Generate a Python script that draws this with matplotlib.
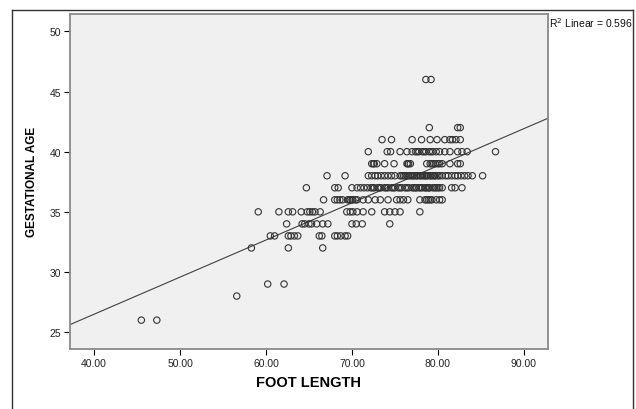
import matplotlib
matplotlib.use("Agg")
import matplotlib.pyplot as plt
from matplotlib.lines import Line2D
import numpy as np

plt.rcParams['font.family'] = ['Liberation Sans', 'DejaVu Sans']

# ---- data: foot length values for each gestational-age level ----
ga_levels = [26, 28, 29, 32, 33, 34, 35, 36, 37, 38, 39, 40, 41, 42, 46]
fl_ga26 = [45.5, 47.3]
fl_ga28 = [56.6]
fl_ga29 = [60.2, 62.1]
fl_ga32 = [58.3, 62.6, 66.6]
fl_ga33 = [60.5, 61.0, 62.6, 62.9, 63.3, 63.7, 66.2, 66.5, 68.0, 68.3, 68.7, 69.2, 69.5]
fl_ga34 = [62.4, 64.2, 64.5, 65.0, 65.3, 65.9, 66.6, 67.2, 70.0, 70.5, 71.2, 74.4]
fl_ga35 = [59.1, 61.5, 62.6, 63.1, 64.1, 64.8, 65.1, 65.4, 65.7, 66.3, 69.4, 69.8,
           70.1, 70.6, 71.3, 72.3, 73.8, 74.4, 75.0, 75.6, 77.9]
fl_ga36 = [66.7, 68.0, 68.3, 68.6, 68.9, 69.5, 69.7, 69.8, 70.0, 70.1, 70.4, 70.6,
           71.3, 71.9, 72.7, 73.3, 74.2, 75.2, 75.6, 76.0, 76.5, 77.9, 78.5, 78.7,
           78.9, 79.1, 79.3, 79.8, 80.2, 80.5]
fl_ga37 = [64.7, 68.0, 68.4, 70.0, 70.6, 71.0, 71.4, 71.8, 72.2, 72.4, 72.6, 73.0,
           73.2, 73.4, 73.8, 74.0, 74.2, 74.6, 74.8, 75.0, 75.4, 75.6, 75.8, 76.2,
           76.4, 76.6, 77.0, 77.2, 77.4, 77.5, 77.8, 78.0, 78.2, 78.5, 78.6, 78.8,
           79.0, 79.0, 79.4, 79.6, 79.8, 80.0, 80.2, 80.5, 81.6, 82.0, 82.8]
fl_ga38 = [67.1, 69.2, 71.9, 72.3, 72.7, 73.0, 73.4, 73.8, 74.2, 74.6, 75.0, 75.6,
           75.8, 76.0, 76.2, 76.4, 76.6, 76.8, 77.0, 77.1, 77.3, 77.5, 77.6, 77.9,
           78.0, 78.2, 78.4, 78.5, 78.7, 78.8, 79.1, 79.2, 79.4, 79.6, 79.7, 80.0,
           80.2, 80.5, 80.9, 81.2, 81.6, 82.0, 82.3, 82.7, 83.1, 83.5, 84.0, 85.2]
fl_ga39 = [72.3, 72.5, 72.6, 72.9, 73.8, 74.9, 76.4, 76.5, 76.6, 76.8, 78.7, 79.1,
           79.3, 79.5, 79.7, 80.0, 80.2, 80.5, 81.4, 82.3, 82.6]
fl_ga40 = [71.9, 74.1, 74.5, 75.6, 76.4, 77.0, 77.4, 77.6, 77.8, 78.2, 78.4, 78.6,
           79.0, 79.2, 79.4, 79.8, 80.2, 80.8, 81.4, 82.3, 82.8, 83.4, 86.7]
fl_ga41 = [73.5, 74.6, 77.0, 78.1, 79.1, 79.9, 80.8, 81.4, 81.7, 82.1, 82.6]
fl_ga42 = [79.0, 82.3, 82.6]
fl_ga46 = [78.6, 79.2]
fl_rows = [fl_ga26, fl_ga28, fl_ga29, fl_ga32, fl_ga33, fl_ga34, fl_ga35, fl_ga36,
           fl_ga37, fl_ga38, fl_ga39, fl_ga40, fl_ga41, fl_ga42, fl_ga46]

# linear fit (as reported)
fit_intercept = 14.15
fit_slope = 0.3085
r_squared = 0.596

x_ticks = [40, 50, 60, 70, 80, 90]
y_ticks = [25, 30, 35, 40, 45, 50]

# ---- figure ----
W, H = 636, 410
fig = plt.figure(figsize=(W / 100, H / 100), dpi=100)
fig.patch.set_facecolor('white')

ax = fig.add_axes([70 / W, 1 - 350 / H, (547.5 - 70) / W, (350 - 14.7) / H])
ax.set_facecolor('#f0f0f0')

xs, ys = [], []
for ga, row in zip(ga_levels, fl_rows):
    xs.extend(row)
    ys.extend([ga] * len(row))
ax.scatter(xs, ys, s=21, facecolors='none', edgecolors='#333333', linewidths=0.8, zorder=3)

xlim = (37.2, 92.75)
ylim = (23.6, 51.47)
xl = np.array(xlim)
ax.plot(xl, fit_intercept + fit_slope * xl, color='#404040', lw=0.8, zorder=2)
ax.set_xlim(*xlim)
ax.set_ylim(*ylim)

ax.set_xticks(x_ticks)
ax.set_xticklabels([f'{v:.2f}' for v in x_ticks])
ax.set_yticks(y_ticks)
ax.set_yticklabels([str(v) for v in y_ticks])
ax.tick_params(axis='both', direction='out', length=4.5, width=0.8, colors='black',
               labelsize=7.5, labelcolor='#222222', pad=2)

for sp in ax.spines.values():
    sp.set_color('#8a8a8a')
    sp.set_linewidth(1.3)

ax.set_xlabel('FOOT LENGTH', fontsize=10.5, fontweight='bold', labelpad=5)
ax.set_ylabel('GESTATIONAL AGE', fontsize=8.5, fontweight='bold', labelpad=8)

fig.text(549 / W, 1 - 23 / H, r'R$^2$ Linear = 0.596', fontsize=7.5, ha='left',
         va='center', color='#111111')

# outer frame
frame_kw = dict(color='#333333', lw=1.0, transform=fig.transFigure)
fig.add_artist(Line2D([12 / W, 12 / W], [0, 1 - 11 / H], **frame_kw))
fig.add_artist(Line2D([12 / W, 633 / W], [1 - 11 / H, 1 - 11 / H], **frame_kw))
fig.add_artist(Line2D([633 / W, 633 / W], [0, 1 - 11 / H], **frame_kw))

fig.savefig('out.png', dpi=100, facecolor='white')
